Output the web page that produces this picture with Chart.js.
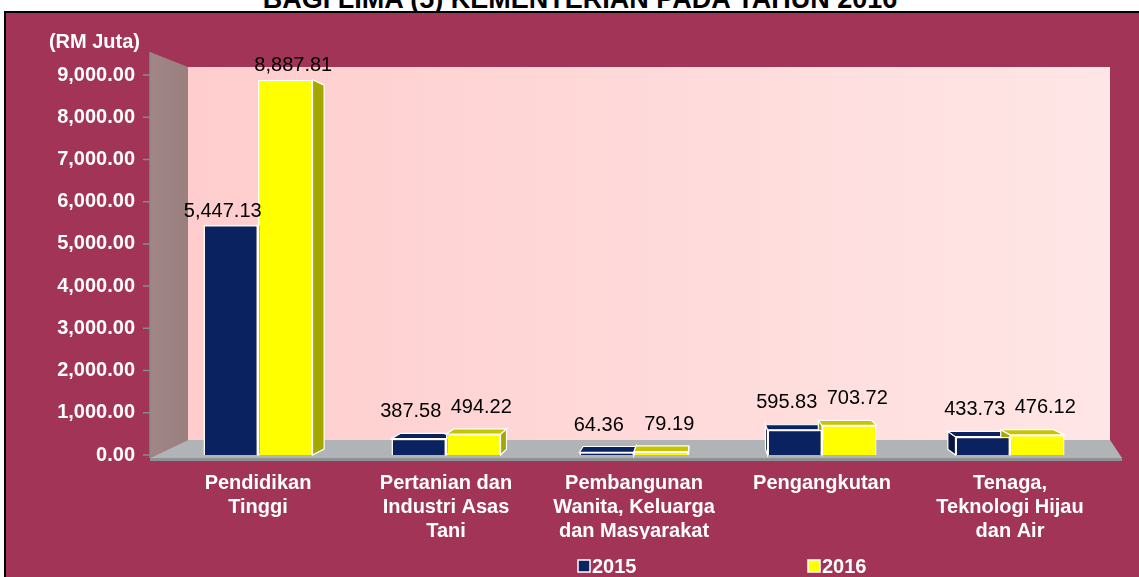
<!DOCTYPE html>
<html>
<head>
<meta charset="utf-8">
<script src="https://cdn.jsdelivr.net/npm/chart.js@4"></script>
<style>
    html, body { margin: 0; padding: 0; background: #ffffff; overflow: hidden; }
    body { width: 1139px; height: 577px; position: relative; font-family: Arial, "Liberation Sans", sans-serif; }
    .title {
        position: absolute; left: 0; top: -12px; width: 1160px; text-align: center;
        font-weight: bold; font-size: 27px; line-height: 22px; color: #000;
    }
    .frame {
        position: absolute; left: 4px; top: 11px; width: 1133px; height: 564px;
        border-left: 2px solid #000; border-top: 2px solid #000; background: #a23557;
    }
    canvas { display: block; }
</style>
</head>
<body>
<div class="title">BAGI LIMA (5) KEMENTERIAN PADA TAHUN 2016</div>
<div class="frame"><canvas id="chart" width="1133" height="564"></canvas></div>
<script>
// data
const categories = [
    ['Pendidikan', 'Tinggi'],
    ['Pertanian dan', 'Industri Asas', 'Tani'],
    ['Pembangunan', 'Wanita, Keluarga', 'dan Masyarakat'],
    ['Pengangkutan'],
    ['Tenaga,', 'Teknologi Hijau', 'dan Air']
];
const seriesLabels = ['2015', '2016'];
const values2015 = [5447.13, 387.58, 64.36, 595.83, 433.73];
const values2016 = [8887.81, 494.22, 79.19, 703.72, 476.12];
const yMin = 0;
const yMax = 9000;
const yStep = 1000;
const unitLabel = '(RM Juta)';

const FONT = 'Arial, "Liberation Sans", sans-serif';

function fmt(v) {
    return v.toLocaleString('en-US', { minimumFractionDigits: 2, maximumFractionDigits: 2 });
}

// 3D-ish walls and floor behind the bars
const wallsPlugin = {
    id: 'walls',
    beforeDatasetsDraw(chart) {
        const ctx = chart.ctx;
        const a = chart.chartArea;
        const L = a.left, R = a.right, T = a.top, B = a.bottom;
        ctx.save();
        // back wall
        const g = ctx.createLinearGradient(L + 24, 0, R + 6, 0);
        g.addColorStop(0, '#ffcdcd');
        g.addColorStop(1, '#ffe6e6');
        ctx.fillStyle = g;
        ctx.fillRect(L + 24, T - 8, R + 6 - (L + 24), B - 15 - (T - 8));
        // left wall
        const lg = ctx.createLinearGradient(L - 14, 0, L + 24, 0);
        lg.addColorStop(0, '#a08686');
        lg.addColorStop(1, '#9a7f7f');
        ctx.fillStyle = lg;
        ctx.beginPath();
        ctx.moveTo(L - 14, T - 23);
        ctx.lineTo(L + 24, T - 8);
        ctx.lineTo(L + 24, B - 15);
        ctx.lineTo(L - 14, B + 3);
        ctx.closePath();
        ctx.fill();
        // floor
        ctx.fillStyle = '#b1b4b7';
        ctx.beginPath();
        ctx.moveTo(L + 24, B - 15);
        ctx.lineTo(R + 6, B - 15);
        ctx.lineTo(R + 18, B + 3);
        ctx.lineTo(L - 14, B + 3);
        ctx.closePath();
        ctx.fill();
        ctx.fillStyle = '#8e9194';
        ctx.fillRect(L - 14, B + 3, R + 18 - (L - 14), 3);
        // axis line and tick marks
        const ys = chart.scales.y;
        ctx.strokeStyle = '#8a8a8a';
        ctx.lineWidth = 1.5;
        ctx.beginPath();
        ctx.moveTo(L - 14, T - 23);
        ctx.lineTo(L - 14, B + 3);
        ys.ticks.forEach(function(t) {
            const py = ys.getPixelForValue(t.value);
            ctx.moveTo(L - 21, py);
            ctx.lineTo(L - 14, py);
        });
        ctx.stroke();
        ctx.restore();
    }
};

// side and top faces of bars, drawn behind the fronts
const faceColors = [
    { top: '#0a2260', side: '#06163f' },
    { top: '#c8c400', side: '#a6a600' }
];
const labelShift = [-8, 8];
const depthPlugin = {
    id: 'depth',
    beforeDatasetsDraw(chart) {
        const ctx = chart.ctx;
        const a = chart.chartArea;
        const vx = a.left + 536, vy = a.top + 185, k = 0.03;
        const back = function(x, y) { return [x + (vx - x) * k, y + (vy - y) * k]; };
        ctx.save();
        ctx.strokeStyle = '#ffffff';
        ctx.lineWidth = 1.2;
        chart.data.datasets.forEach(function(ds, di) {
            chart.getDatasetMeta(di).data.forEach(function(bar) {
                const p = bar.getProps(['x', 'y', 'base', 'width'], true);
                const x0 = p.x - p.width / 2, x1 = p.x + p.width / 2;
                const y0 = p.y, y1 = p.base;
                // side
                const sx = vx > x1 ? x1 : (vx < x0 ? x0 : null);
                if (sx !== null) {
                    const b0 = back(sx, y0), b1 = back(sx, y1);
                    ctx.fillStyle = faceColors[di].side;
                    ctx.beginPath();
                    ctx.moveTo(sx, y0); ctx.lineTo(b0[0], b0[1]);
                    ctx.lineTo(b1[0], b1[1]); ctx.lineTo(sx, y1);
                    ctx.closePath(); ctx.fill(); ctx.stroke();
                }
                // top
                if (vy < y0) {
                    const t0 = back(x0, y0), t1 = back(x1, y0);
                    ctx.fillStyle = faceColors[di].top;
                    ctx.beginPath();
                    ctx.moveTo(x0, y0); ctx.lineTo(x1, y0);
                    ctx.lineTo(t1[0], t1[1]); ctx.lineTo(t0[0], t0[1]);
                    ctx.closePath(); ctx.fill(); ctx.stroke();
                }
            });
        });
        ctx.restore();
    },
    afterDatasetsDraw(chart) {
        // value labels
        const ctx = chart.ctx;
        ctx.save();
        ctx.fillStyle = '#000000';
        ctx.font = '20px ' + FONT;
        ctx.textAlign = 'center';
        ctx.textBaseline = 'bottom';
        chart.data.datasets.forEach(function(ds, di) {
            chart.getDatasetMeta(di).data.forEach(function(bar, i) {
                const p = bar.getProps(['x', 'y'], true);
                const lift = p.y > chart.chartArea.top + 185 ? 17 : 4;
                ctx.fillText(fmt(ds.data[i]), p.x + labelShift[di], p.y - lift);
            });
        });
        ctx.restore();
    }
};

// unit text and legend
const extrasPlugin = {
    id: 'extras',
    afterDraw(chart) {
        const ctx = chart.ctx;
        const a = chart.chartArea;
        ctx.save();
        ctx.fillStyle = '#ffffff';
        ctx.font = 'bold 20px ' + FONT;
        ctx.textAlign = 'right';
        ctx.textBaseline = 'middle';
        ctx.fillText(unitLabel, a.left - 24, a.top - 33);
        // legend
        const legendX = [572, 802];
        const ly = 553;
        chart.data.datasets.forEach(function(ds, i) {
            ctx.fillStyle = ds.backgroundColor;
            ctx.fillRect(legendX[i], ly - 6, 12, 12);
            ctx.strokeStyle = '#ffffff';
            ctx.lineWidth = 1.5;
            ctx.strokeRect(legendX[i], ly - 6, 12, 12);
            ctx.fillStyle = '#ffffff';
            ctx.textAlign = 'left';
            ctx.fillText(ds.label, legendX[i] + 14, ly + 1);
        });
        ctx.restore();
    }
};

const ctx = document.getElementById('chart').getContext('2d');
new Chart(ctx, {
    type: 'bar',
    data: {
        labels: categories,
        datasets: [
            {
                label: seriesLabels[0],
                data: values2015,
                backgroundColor: '#0a2260',
                borderColor: '#ffffff',
                borderWidth: 1.5,
                categoryPercentage: 0.58,
                barPercentage: 1.0
            },
            {
                label: seriesLabels[1],
                data: values2016,
                backgroundColor: '#ffff00',
                borderColor: '#ffffff',
                borderWidth: 1.5,
                categoryPercentage: 0.58,
                barPercentage: 1.0
            }
        ]
    },
    options: {
        responsive: false,
        animation: false,
        layout: { padding: { left: 0, right: 35, top: 62, bottom: 38 } },
        scales: {
            x: {
                grid: { display: false, drawTicks: false },
                border: { display: false },
                ticks: {
                    color: '#ffffff',
                    font: { family: FONT, size: 20, weight: 'bold' },
                    padding: 16,
                    maxRotation: 0,
                    autoSkip: false
                },
                afterFit: function(scale) { scale.height = 84; }
            },
            y: {
                min: yMin,
                max: yMax,
                grid: { display: false, drawTicks: false },
                border: { display: false },
                ticks: {
                    stepSize: yStep,
                    color: '#ffffff',
                    font: { family: FONT, size: 20, weight: 'bold' },
                    padding: 29,
                    callback: function(value) { return fmt(value); }
                },
                afterFit: function(scale) { scale.width = 158; }
            }
        },
        plugins: {
            legend: { display: false },
            tooltip: { enabled: false }
        }
    },
    plugins: [wallsPlugin, depthPlugin, extrasPlugin]
});
</script>
</body>
</html>
